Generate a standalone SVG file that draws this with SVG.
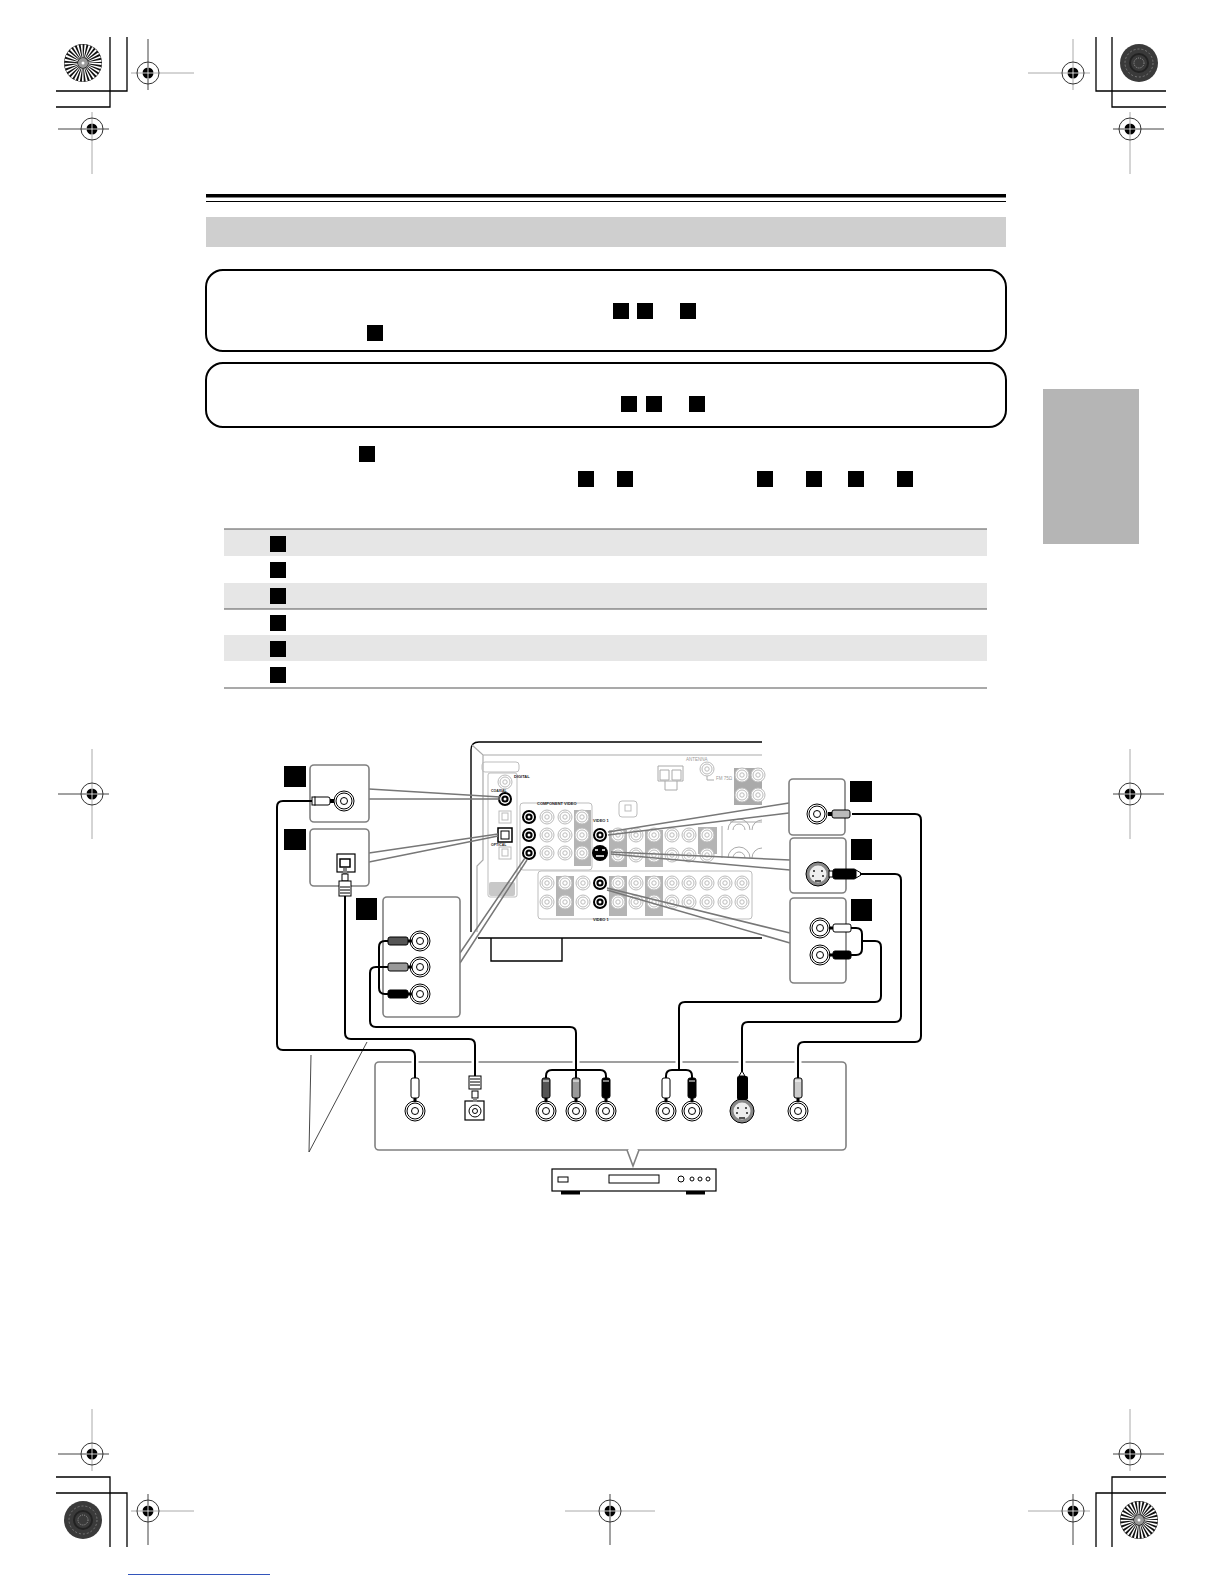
<svg xmlns="http://www.w3.org/2000/svg" xmlns:xlink="http://www.w3.org/1999/xlink" width="1224" height="1584" viewBox="0 0 1224 1584">
<style>
.k{fill:none;stroke:#000;stroke-width:1.3}
.pn{fill:#fff;stroke:#808080;stroke-width:1.6}
.ld{fill:none;stroke:#777;stroke-width:1.5}
.cb{fill:none;stroke:#000;stroke-width:2;stroke-linejoin:round}
.hl{fill:none;stroke:#fff;stroke-width:7}
.sq{fill:#000}
.box{fill:#fff;stroke:#000;stroke-width:2}
.gr{fill:none;stroke:#bdbdbd;stroke-width:1}
.gf{fill:#b4b4b4}
.rw{fill:#e6e6e6}
.t{font-family:"Liberation Sans",Arial,sans-serif;font-size:4px;fill:#222;font-weight:700}
.tg{font-family:"Liberation Sans",Arial,sans-serif;font-size:4.500px;fill:#999}
.pb{stroke:#000;stroke-width:1}
.dk{fill:none;stroke:#444;stroke-width:1}
.lg{fill:none;stroke:#aaa;stroke-width:1}
</style>
<defs>
<g id="bull"><circle r="11" fill="none" stroke="#333" stroke-width="1"/><circle r="5.500" fill="#000"/><path d="M-6 0H6M0-6V6" stroke="#fff" stroke-width=".8"/></g>
<g id="burst"><circle r="19" fill="#111"/><circle r="12" fill="none" stroke="#fff" stroke-width="13" stroke-dasharray="1.3 1.3"/><circle r="5" fill="#999"/><circle r="1.500" fill="#fff"/></g>
<g id="dark"><circle r="19" fill="#3a3a3a"/><circle r="14" fill="none" stroke="#777" stroke-width="1" stroke-dasharray="2 2"/><circle r="9" fill="none" stroke="#222" stroke-width="2"/><circle r="5" fill="none" stroke="#aaa" stroke-width=".8" stroke-dasharray="1 1"/></g>
<g id="jack"><circle r="10" fill="#fff" stroke="#000" stroke-width="1"/><circle r="8" fill="#fff" stroke="#000" stroke-width="1"/><circle r="3.500" fill="#fff" stroke="#000" stroke-width="1"/></g>
<g id="sjack"><circle r="12" fill="#888" stroke="#000" stroke-width="1"/><circle r="8.500" fill="#eee"/><path d="M-5-3h2M3-3h2M-6 2h2M4 2h2M-3 7h6" stroke="#222" stroke-width="1.500"/></g>
<g id="bj"><circle r="7" fill="#000"/><circle r="5" fill="#fff"/><circle r="3.600" fill="#000"/><circle r="1.500" fill="#fff"/></g>
<g id="gj"><circle r="7" fill="#fff" stroke="#bbb" stroke-width="1"/><circle r="5" fill="none" stroke="#bbb" stroke-width="1"/><circle r="2.200" fill="none" stroke="#bbb" stroke-width="1"/></g>
<g id="go"><rect x="-6" y="-6" width="12" height="12" fill="#fff" stroke="#bbb"/><rect x="-3" y="-4" width="6" height="7" fill="none" stroke="#bbb"/></g>
</defs>
<rect width="1224" height="1584" fill="#fff"/>

<g id="crop-marks">
<path class="k" d="M110 37V107H56M127 37V91H56M1096 37V91H1166M1112 37V107H1166M110 1547V1477H56M127 1547V1493H56M1096 1547V1493H1166M1112 1547V1477H1166"/>
<use xlink:href="#burst" x="83" y="63"/><use xlink:href="#dark" x="1139" y="63"/><use xlink:href="#dark" x="83" y="1520"/><use xlink:href="#burst" x="1139" y="1520"/>
<path class="dk" d="M148 39V90M58 129H109M1113 129H1164M58 1454H109M1113 1454H1164M58 794H109M1113 794H1164M148 1494V1545M1073 1494V1545M610 1494V1545"/>
<path class="lg" d="M131 73H194M92 112V174M1028 73H1090M1073 39V90M1130 112V174M92 1409V1471M1130 1409V1471M92 749V839M1130 749V839M131 1511H194M1028 1511H1090M565 1511H655"/>
<use xlink:href="#bull" x="148" y="73"/><use xlink:href="#bull" x="92" y="129"/><use xlink:href="#bull" x="1073" y="73"/><use xlink:href="#bull" x="1130" y="129"/>
<use xlink:href="#bull" x="92" y="794"/><use xlink:href="#bull" x="1130" y="794"/>
<use xlink:href="#bull" x="92" y="1454"/><use xlink:href="#bull" x="1130" y="1454"/>
<use xlink:href="#bull" x="148" y="1511"/><use xlink:href="#bull" x="610" y="1511"/><use xlink:href="#bull" x="1073" y="1511"/>
</g>

<g id="page-head">
<rect x="206" y="194" width="800" height="3.500" fill="#000"/><rect x="206" y="201" width="800" height="1" fill="#000"/>
<rect x="206" y="217" width="800" height="30" fill="#cfcfcf"/>
<rect x="1043" y="389" width="96" height="155" fill="#b5b5b5"/>
<rect x="128" y="1574" width="142" height="1" fill="#3355bb"/>
</g>

<g id="note-1"><rect class="box" x="206" y="270" width="800" height="81" rx="17"/>
<rect class="sq" x="613" y="303" width="16" height="16"/><rect class="sq" x="637" y="303" width="16" height="16"/><rect class="sq" x="680" y="303" width="16" height="16"/><rect class="sq" x="367" y="325" width="16" height="16"/></g>
<g id="note-2"><rect class="box" x="206" y="363" width="800" height="64" rx="17"/>
<rect class="sq" x="621" y="396" width="16" height="16"/><rect class="sq" x="646" y="396" width="16" height="16"/><rect class="sq" x="689" y="396" width="16" height="16"/></g>
<g id="para-squares"><rect class="sq" x="359" y="446" width="16" height="16"/><rect class="sq" x="578" y="471" width="16" height="16"/><rect class="sq" x="617" y="471" width="16" height="16"/><rect class="sq" x="757" y="471" width="16" height="16"/><rect class="sq" x="806" y="471" width="16" height="16"/><rect class="sq" x="848" y="471" width="16" height="16"/><rect class="sq" x="897" y="471" width="16" height="16"/></g>

<g id="table">
<rect class="rw" x="224" y="529" width="763" height="27"/><rect class="rw" x="224" y="583" width="763" height="26"/><rect class="rw" x="224" y="635" width="763" height="26"/>
<path d="M224 529H987M224 609H987M224 688H987" stroke="#555" stroke-width="1.200" fill="none"/>
<rect class="sq" x="270" y="536" width="16" height="16"/><rect class="sq" x="270" y="562" width="16" height="16"/><rect class="sq" x="270" y="588" width="16" height="16"/><rect class="sq" x="270" y="615" width="16" height="16"/><rect class="sq" x="270" y="641" width="16" height="16"/><rect class="sq" x="270" y="667" width="16" height="16"/>
</g>

<g id="receiver">
<path d="M471 932V750Q471 742 479 742H762M478 938H762M491 938V961H562V938" fill="none" stroke="#000" stroke-width="1.400"/>
<path d="M472 745L483 755H762M483 755V860L477 866V932" fill="none" stroke="#aaa" stroke-width="1.200"/>
<rect class="gr" x="482" y="762" width="37" height="10" rx="3"/>
<rect class="gr" x="488" y="773" width="29" height="124" rx="2"/>
<rect x="489" y="882" width="26" height="14" rx="2" fill="#c8c8c8"/>
<rect class="gr" x="520" y="803" width="72" height="67" rx="3"/>
<rect class="gf" x="574" y="810" width="17" height="56"/>
<rect class="gf" x="609" y="830" width="18" height="37"/><rect class="gf" x="645" y="830" width="18" height="37"/><rect class="gf" x="698" y="827" width="19" height="27"/>
<rect class="gr" x="538" y="871" width="214" height="48" rx="3"/>
<rect class="gf" x="556" y="876" width="18" height="40"/><rect class="gf" x="609" y="876" width="18" height="40"/><rect class="gf" x="645" y="876" width="18" height="40"/>
<rect class="gr" x="619" y="801" width="18" height="16" rx="3"/><rect class="gr" x="625" y="805" width="6" height="6"/>
<use xlink:href="#gj" x="505" y="782"/><use xlink:href="#bj" x="505" y="799"/>
<use xlink:href="#go" x="505" y="817"/><use xlink:href="#go" x="505" y="853"/>
<rect x="498" y="828" width="14" height="14" fill="#fff" stroke="#000" stroke-width="1.500"/><rect x="501" y="831" width="8" height="8" fill="none" stroke="#000"/>
<use xlink:href="#bj" x="529" y="817"/><use xlink:href="#bj" x="529" y="835"/><use xlink:href="#bj" x="529" y="853"/>
<use xlink:href="#gj" x="547" y="817"/><use xlink:href="#gj" x="565" y="817"/><use xlink:href="#gj" x="582" y="817"/>
<use xlink:href="#gj" x="547" y="835"/><use xlink:href="#gj" x="565" y="835"/><use xlink:href="#gj" x="582" y="835"/>
<use xlink:href="#gj" x="547" y="853"/><use xlink:href="#gj" x="565" y="853"/><use xlink:href="#gj" x="582" y="853"/>
<use xlink:href="#bj" x="600" y="835"/><use xlink:href="#bj" x="600" y="883"/><use xlink:href="#bj" x="600" y="902"/>
<circle cx="600" cy="853" r="8" fill="#000"/><path d="M595 850h3M602 850h3M596 856h8" stroke="#fff" stroke-width="1.600"/>
<use xlink:href="#gj" x="618" y="835"/><use xlink:href="#gj" x="636" y="835"/><use xlink:href="#gj" x="654" y="835"/><use xlink:href="#gj" x="672" y="835"/><use xlink:href="#gj" x="689" y="835"/><use xlink:href="#gj" x="707" y="835"/>
<use xlink:href="#gj" x="618" y="855"/><use xlink:href="#gj" x="636" y="855"/><use xlink:href="#gj" x="654" y="855"/><use xlink:href="#gj" x="672" y="855"/><use xlink:href="#gj" x="689" y="855"/><use xlink:href="#gj" x="707" y="855"/>
<use xlink:href="#gj" x="547" y="883"/><use xlink:href="#gj" x="565" y="883"/><use xlink:href="#gj" x="583" y="883"/><use xlink:href="#gj" x="618" y="883"/><use xlink:href="#gj" x="636" y="883"/><use xlink:href="#gj" x="654" y="883"/><use xlink:href="#gj" x="672" y="883"/><use xlink:href="#gj" x="689" y="883"/><use xlink:href="#gj" x="707" y="883"/><use xlink:href="#gj" x="725" y="883"/><use xlink:href="#gj" x="742" y="883"/>
<use xlink:href="#gj" x="547" y="902"/><use xlink:href="#gj" x="565" y="902"/><use xlink:href="#gj" x="583" y="902"/><use xlink:href="#gj" x="618" y="902"/><use xlink:href="#gj" x="636" y="902"/><use xlink:href="#gj" x="654" y="902"/><use xlink:href="#gj" x="672" y="902"/><use xlink:href="#gj" x="689" y="902"/><use xlink:href="#gj" x="707" y="902"/><use xlink:href="#gj" x="725" y="902"/><use xlink:href="#gj" x="742" y="902"/>
<path d="M658 766H683V781H658ZM660 770H669V780H660ZM672 770H681V780H672ZM665 781V790H672M677 781V790H672" fill="#fff" stroke="#aaa" stroke-width="1"/>
<use xlink:href="#gj" x="707" y="769"/>
<path d="M707 776V780H714" fill="none" stroke="#aaa"/>
<path d="M734 768H762V805H734Z" fill="#aaa"/><use xlink:href="#gj" x="742" y="775"/><use xlink:href="#gj" x="758" y="775"/><use xlink:href="#gj" x="742" y="795"/><use xlink:href="#gj" x="758" y="795"/>
<path d="M730 822H762M722 826V858M728 830a11 11 0 0 1 22 0M733 830a6 6 0 0 1 12 0M728 858a11 11 0 0 1 22 0M733 858a6 6 0 0 1 12 0M752 858a10 10 0 0 1 10-10M752 830a10 10 0 0 1 10-10" fill="none" stroke="#aaa" stroke-width="1"/>
<text class="t" x="514" y="778">DIGITAL</text>
<text class="t" x="491" y="792" style="font-size:3.500px">COAXIAL</text>
<text class="t" x="491" y="846" style="font-size:3.500px">OPTICAL</text>
<text class="t" x="537" y="805">COMPONENT VIDEO</text>
<text class="tg" x="686" y="761">ANTENNA</text>
<text class="tg" x="716" y="780">FM 75Ω</text>
<text class="t" x="593" y="822">VIDEO 1</text>
<text class="t" x="593" y="921">VIDEO 1</text>
</g>

<g id="leaders">
<path class="ld" d="M369 789L500 797M369 799L500 799"/>
<path class="ld" d="M369 853L498 834M369 862L498 836"/>
<path class="ld" d="M460 953L525 858M460 963L527 860"/>
<path class="ld" d="M608 832L789 803M608 835L789 813"/>
<path class="ld" d="M611 852L790 860M611 854L790 870"/>
<path class="ld" d="M607 888L790 933M607 890L790 943"/>
<path d="M311 1055L309 1152L367 1042" fill="none" stroke="#333" stroke-width=".9"/>
</g>

<g id="panel-coax"><rect class="pn" x="310" y="765" width="59" height="57" rx="4"/><rect class="sq" x="284" y="766" width="22" height="21"/><use xlink:href="#jack" x="344" y="801"/><rect class="pb" x="313" y="797" width="17" height="8" rx="2" fill="#fff"/><rect x="330" y="799" width="4" height="4" fill="#000"/><rect class="pb" x="312" y="797" width="3" height="8" fill="#fff"/></g>
<g id="panel-optical"><rect class="pn" x="310" y="829" width="59" height="57" rx="4"/><rect class="sq" x="284" y="829" width="22" height="21"/>
<rect x="337" y="854" width="18" height="18" fill="#fff" stroke="#000" stroke-width="1.200"/><rect x="340" y="859" width="10" height="8" fill="#fff" stroke="#000" stroke-width="1.500"/>
<rect x="343" y="868" width="4" height="6" fill="#888"/>
<rect x="342" y="874" width="6" height="7" fill="#fff" stroke="#000"/><rect x="339" y="881" width="12" height="15" fill="#fff" stroke="#000"/><path d="M340 887H350M340 890H350M340 893H350" stroke="#000"/></g>
<g id="panel-component"><rect class="pn" x="383" y="897" width="77" height="120" rx="4"/><rect class="sq" x="356" y="898" width="21" height="22"/>
<use xlink:href="#jack" x="420" y="941"/><use xlink:href="#jack" x="420" y="967"/><use xlink:href="#jack" x="420" y="994"/>
<rect class="pb" x="388" y="937" width="20" height="8" rx="2" fill="#555"/><rect class="pb" x="388" y="963" width="20" height="8" rx="2" fill="#999"/><rect class="pb" x="388" y="990" width="20" height="8" rx="2" fill="#000"/>
<path d="M408 941h4M408 967h4M408 994h4" stroke="#000" stroke-width="3"/></g>
<g id="panel-v-coax"><rect class="pn" x="789" y="779" width="56" height="56" rx="4"/><rect class="sq" x="850" y="781" width="22" height="21"/><use xlink:href="#jack" x="817" y="814"/><rect class="pb" x="832" y="810" width="18" height="8" rx="2" fill="#bbb"/><rect x="828" y="812" width="4" height="4" fill="#000"/></g>
<g id="panel-v-s"><rect class="pn" x="790" y="838" width="56" height="55" rx="4"/><rect class="sq" x="851" y="839" width="21" height="21"/><use xlink:href="#sjack" x="818" y="874"/><rect class="pb" x="829" y="871" width="4" height="6" fill="#fff"/><rect class="pb" x="833" y="869" width="23" height="10" rx="2" fill="#000"/><path d="M856 870L861 873V875L856 878Z" fill="#fff" stroke="#000"/></g>
<g id="panel-v-analog"><rect class="pn" x="790" y="898" width="56" height="85" rx="4"/><rect class="sq" x="851" y="899" width="21" height="22"/>
<use xlink:href="#jack" x="820" y="928"/><use xlink:href="#jack" x="820" y="955"/>
<rect class="pb" x="833" y="924" width="18" height="8" rx="2" fill="#fff"/><rect class="pb" x="833" y="951" width="18" height="8" rx="2" fill="#000"/>
<path d="M829 928h4M829 955h4" stroke="#000" stroke-width="3"/></g>

<g id="source-panel">
<rect class="pn" x="375" y="1062" width="471" height="88" rx="4"/>
<path d="M627 1150L633 1166L639 1150" fill="#fff" stroke="#808080" stroke-width="1.600"/><path d="M628.500 1149.500H637.500" stroke="#fff" stroke-width="2.500"/>
</g>

<g id="connectors">
<path class="hl" d="M415 1060V1064M475 1060V1064M576 1060V1064M679 1060V1064M742 1060V1064M798 1060V1064"/>
<path class="cb" d="M312 801H283Q277 801 277 807V1044Q277 1050 283 1050H409Q415 1050 415 1056V1078"/>
<path class="cb" d="M345 896V1033Q345 1039 351 1039H469Q475 1039 475 1045V1076"/>
<path class="cb" d="M388 941H385Q379 941 379 947V988Q379 994 385 994H388"/>
<path class="cb" d="M388 967H376Q370 967 370 973V1021Q370 1027 376 1027H570Q576 1027 576 1033V1078"/>
<path class="cb" d="M546 1078V1076Q546 1070 552 1070H600Q606 1070 606 1076V1078"/>
<path class="cb" d="M852 814H915Q921 814 921 820V1036Q921 1042 915 1042H804Q798 1042 798 1048V1078"/>
<path class="cb" d="M860 874H895Q901 874 901 880V1016Q901 1022 895 1022H748Q742 1022 742 1028V1072"/>
<path class="cb" d="M851 928H856Q862 928 862 934V949Q862 955 856 955H851"/>
<path class="cb" d="M862 941H875Q881 941 881 947V996Q881 1002 875 1002H685Q679 1002 679 1008V1070"/>
<path class="cb" d="M666 1078V1076Q666 1070 672 1070H686Q692 1070 692 1076V1078"/>
</g>

<g id="source-jacks">
<use xlink:href="#jack" x="415" y="1111"/><use xlink:href="#jack" x="546" y="1111"/><use xlink:href="#jack" x="576" y="1111"/><use xlink:href="#jack" x="606" y="1111"/><use xlink:href="#jack" x="666" y="1111"/><use xlink:href="#jack" x="692" y="1111"/><use xlink:href="#sjack" x="742" y="1111"/><use xlink:href="#jack" x="798" y="1111"/>
<rect x="465" y="1101" width="19" height="19" fill="#fff" stroke="#000" stroke-width="1.200"/><circle cx="475" cy="1111" r="6" fill="none" stroke="#000"/><circle cx="475" cy="1111" r="2.500" fill="none" stroke="#000"/>
<rect class="pb" x="411" y="1078" width="8" height="20" rx="2" fill="#fff"/><rect class="pb" x="542" y="1078" width="8" height="20" rx="2" fill="#555"/><rect class="pb" x="572" y="1078" width="8" height="20" rx="2" fill="#999"/><rect class="pb" x="602" y="1078" width="8" height="20" rx="2" fill="#000"/><rect class="pb" x="662" y="1078" width="8" height="20" rx="2" fill="#fff"/><rect class="pb" x="688" y="1078" width="8" height="20" rx="2" fill="#000"/><rect class="pb" x="794" y="1078" width="8" height="20" rx="2" fill="#ccc"/>
<path d="M412 1081h6M543 1081h6M573 1081h6M603 1081h6M663 1081h6M689 1081h6M795 1081h6" stroke="#fff" stroke-width="1"/>
<rect x="737" y="1076" width="11" height="24" rx="2" fill="#000"/><path d="M739 1076L742 1071L745 1076Z" fill="#fff" stroke="#000"/>
<path d="M415 1098v4M546 1098v4M576 1098v4M606 1098v4M666 1098v4M692 1098v4M798 1098v4" stroke="#000" stroke-width="3"/>
<rect x="469" y="1076" width="12" height="13" fill="#fff" stroke="#000"/><path d="M470 1079H480M470 1082H480M470 1085H480" stroke="#000"/><rect x="472" y="1091" width="6" height="7" fill="#fff" stroke="#000"/><rect x="473" y="1098" width="4" height="4" fill="#888"/>
</g>

<g id="source-device">
<rect x="552" y="1169" width="164" height="22" fill="#fff" stroke="#000" stroke-width="1.200"/>
<rect x="558" y="1177" width="10" height="5" fill="#fff" stroke="#000"/><rect x="609" y="1175" width="50" height="8" fill="#fff" stroke="#000"/>
<circle cx="681" cy="1179" r="3" fill="#fff" stroke="#000"/><circle cx="692" cy="1179" r="2" fill="#fff" stroke="#000"/><circle cx="700" cy="1179" r="2" fill="#fff" stroke="#000"/><circle cx="708" cy="1179" r="2" fill="#fff" stroke="#000"/>
<rect x="561" y="1191" width="19" height="3.500" fill="#000"/><rect x="686" y="1191" width="19" height="3.500" fill="#000"/>
</g>
</svg>
